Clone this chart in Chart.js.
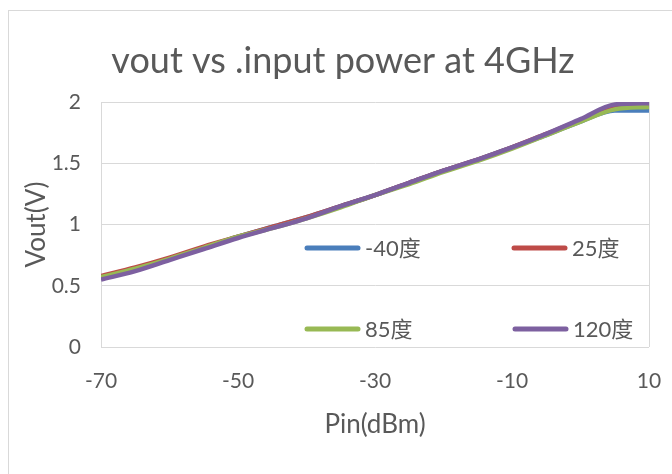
<!DOCTYPE html>
<html>
<head>
<meta charset="utf-8">
<script src="https://cdn.jsdelivr.net/npm/chart.js@4.4.0/dist/chart.umd.min.js"></script>
<style>
  html, body { margin: 0; padding: 0; background: #fff; }
  #chart { display: block; }
</style>
</head>
<body>
<canvas id="chart" width="672" height="474"></canvas>
<script>
// ------------------------------------------------------------
// DATA
// ------------------------------------------------------------
const pinDbm = [-70, -65, -60, -55, -50, -45, -40, -35, -30, -25, -20, -15, -10, -5, 0, 5, 10];

const voutM40 = [0.57, 0.64, 0.72, 0.81, 0.90, 0.98, 1.06, 1.15, 1.24, 1.34, 1.44, 1.53, 1.63, 1.73, 1.84, 1.93, 1.93];
const vout25  = [0.58, 0.65, 0.73, 0.82, 0.90, 0.98, 1.06, 1.15, 1.24, 1.34, 1.44, 1.53, 1.63, 1.74, 1.85, 1.95, 1.97];
const vout85  = [0.57, 0.64, 0.72, 0.81, 0.90, 0.97, 1.05, 1.14, 1.24, 1.33, 1.43, 1.52, 1.62, 1.73, 1.84, 1.94, 1.96];
const vout120 = [0.55, 0.62, 0.71, 0.80, 0.89, 0.97, 1.05, 1.15, 1.24, 1.34, 1.44, 1.53, 1.63, 1.74, 1.86, 1.98, 1.99];

const seriesNames  = ["-40度", "25度", "85度", "120度"];
const seriesValues = [voutM40, vout25, vout85, vout120];
const seriesColors = ["#4a7ebb", "#be4b48", "#98b954", "#7d60a0"];

const xTicks = [-70, -50, -30, -10, 10];
const yTicks = [0, 0.5, 1, 1.5, 2];

const chartTitle = "vout vs .input power at 4GHz";
const xTitle = "Pin(dBm)";
const yTitle = "Vout(V)";

// ------------------------------------------------------------
// STYLE
// ------------------------------------------------------------
const FONT = "Lato, 'Noto Sans CJK SC', sans-serif";
const TEXT = "#595959";
const GRID = "#d9d9d9";

// legend slots inside the plot area: [x of line start, y]
const legendSlots = [[305, 248], [512, 248], [305, 329], [513, 329]];

// outer chart-area frame like the Excel chart, plus the title
const framePlugin = {
    id: "frame",
    beforeDraw(chart) {
        const ctx = chart.ctx;
        ctx.save();
        ctx.fillStyle = "#fff";
        ctx.fillRect(0, 0, chart.width, chart.height);
        ctx.strokeStyle = "#d9d9d9";
        ctx.lineWidth = 1;
        ctx.strokeRect(8.5, 10.5, 800, 600);
        // title sits a bit right of the canvas centre, as in Excel
        ctx.fillStyle = TEXT;
        ctx.font = "36px " + FONT;
        ctx.textAlign = "center";
        ctx.textBaseline = "alphabetic";
        ctx.fillText(chartTitle, 343, 73);
        ctx.restore();
    }
};

// legend drawn inside the plot, two rows by two columns
const insideLegend = {
    id: "insideLegend",
    afterDraw(chart) {
        const ctx = chart.ctx;
        ctx.save();
        ctx.font = "22px " + FONT;
        ctx.textBaseline = "middle";
        chart.data.datasets.forEach((ds, i) => {
            const [x, y] = legendSlots[i];
            ctx.strokeStyle = ds.borderColor;
            ctx.lineWidth = 5;
            ctx.lineCap = "round";
            ctx.beginPath();
            ctx.moveTo(x + 2, y);
            ctx.lineTo(x + 53, y);
            ctx.stroke();
            ctx.fillStyle = TEXT;
            ctx.fillText(ds.label, x + 60, y + 1);
        });
        ctx.restore();
    }
};

// ------------------------------------------------------------
// INIT CHART
// ------------------------------------------------------------
function initChart() {
    const ctx = document.getElementById("chart").getContext("2d");

    const datasets = seriesNames.map((name, i) => ({
        label: name,
        data: pinDbm.map((p, j) => ({ x: p, y: seriesValues[i][j] })),
        borderColor: seriesColors[i],
        backgroundColor: seriesColors[i],
        borderWidth: 4.5,
        pointRadius: 0,
        cubicInterpolationMode: "monotone",
        order: seriesNames.length - i   // last series drawn on top
    }));

    new Chart(ctx, {
        type: "line",
        data: { datasets },
        plugins: [framePlugin, insideLegend],
        options: {
            responsive: false,
            devicePixelRatio: 1,
            animation: false,
            layout: { padding: { left: 0, right: 23, top: 102, bottom: 0 } },
            plugins: {
                legend: { display: false },
                tooltip: { enabled: false },
                title: { display: false }
            },
            scales: {
                x: {
                    type: "linear",
                    min: -70,
                    max: 10,
                    afterBuildTicks: s => { s.ticks = xTicks.map(v => ({ value: v })); },
                    afterFit: s => { s.height = 127; s.paddingLeft = 0; s.paddingRight = 0; },
                    ticks: { color: TEXT, font: { family: FONT, size: 21 }, padding: 22, maxRotation: 0 },
                    grid: {
                        drawTicks: false,
                        color: c => (c.index === 0 || c.index === xTicks.length - 1) ? GRID : "transparent"
                    },
                    border: { display: false },
                    title: {
                        display: true,
                        text: xTitle,
                        color: TEXT,
                        font: { family: FONT, size: 26 },
                        padding: 34
                    }
                },
                y: {
                    min: 0,
                    max: 2,
                    afterBuildTicks: s => { s.ticks = yTicks.map(v => ({ value: v })); },
                    afterFit: s => { s.width = 101; s.paddingTop = 0; s.paddingBottom = 0; },
                    ticks: {
                        color: TEXT,
                        font: { family: FONT, size: 21 },
                        padding: 20,
                        callback: v => String(v)
                    },
                    grid: { drawTicks: false, color: GRID },
                    border: { display: true, color: GRID },
                    title: {
                        display: true,
                        text: yTitle,
                        color: TEXT,
                        font: { family: FONT, size: 26 },
                        padding: 21
                    }
                }
            }
        }
    });
}

initChart();
</script>
</body>
</html>
